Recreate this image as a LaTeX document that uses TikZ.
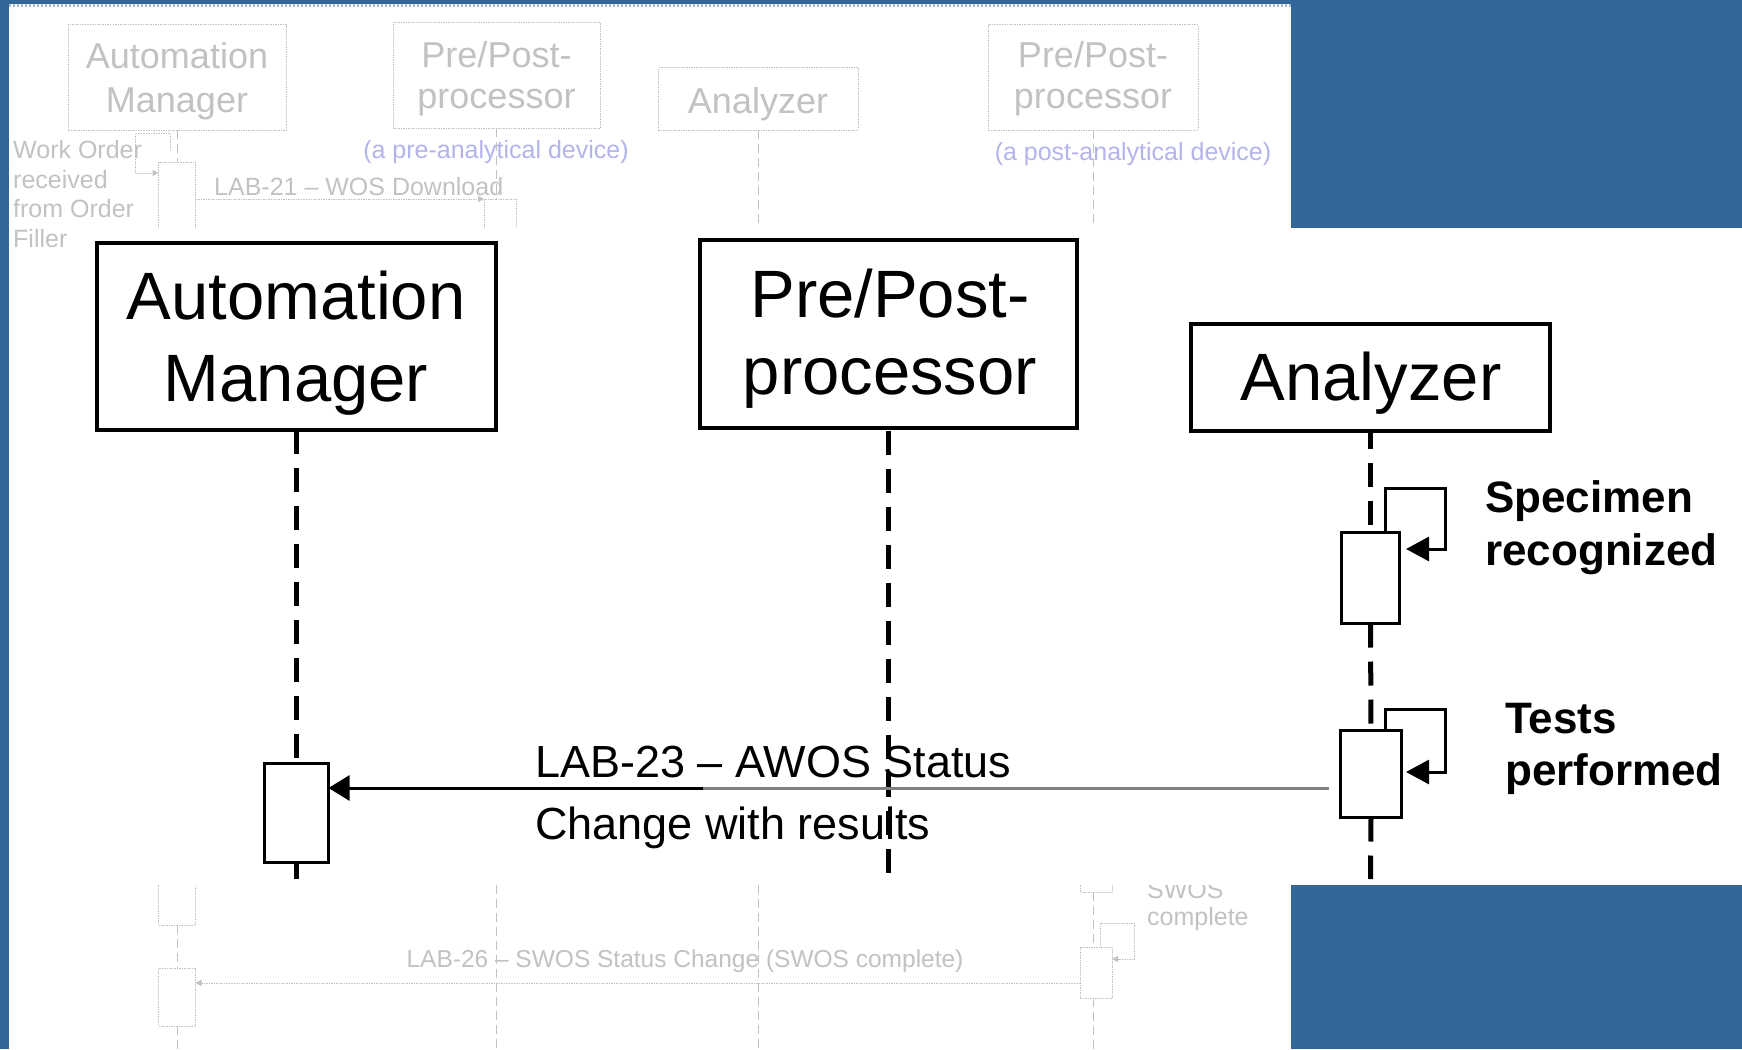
\documentclass[tikz,border=0pt]{standalone}
\usepackage{fontspec}
\setmainfont{Liberation Sans}
\usetikzlibrary{arrows.meta}
\definecolor{bgblue}{HTML}{336699}
\definecolor{ghost}{HTML}{C2C2C2}
\definecolor{ghostblue}{HTML}{B4B4EC}
\definecolor{msggray}{HTML}{808080}
\definecolor{topdots}{HTML}{A9BCD3}
\tikzset{
  bigbox/.style={draw=black, line width=4pt, fill=white, inner sep=0pt, outer sep=0pt},
  actbox/.style={draw=black, line width=3pt, fill=white, inner sep=0pt, outer sep=0pt},
  lifeline/.style={line width=5pt, dash pattern=on 24pt off 14pt},
  selfmsg/.style={line width=3pt, -{Triangle[length=23pt,width=24pt]}},
  msgarrow/.style={line width=3pt, -{Triangle[length=21pt,width=25pt]}},
  msgtail/.style={line width=3pt, draw=msggray},
  boxtext/.style={font=\fontsize{67}{80}\selectfont, anchor=base, inner sep=0pt},
  msgtext/.style={font=\fontsize{45}{54}\selectfont, anchor=base west, inner sep=0pt},
  notetext/.style={font=\bfseries\fontsize{44}{52}\selectfont, anchor=base west, inner sep=0pt},
  gline/.style={draw=ghost, line width=1pt, dash pattern=on 1.5pt off 1pt},
  glife/.style={draw=ghost, line width=1pt, dash pattern=on 9pt off 5pt},
  gbox/.style={gline, fill=white, inner sep=0pt, outer sep=0pt},
  gbig/.style={text=ghost, font=\fontsize{36}{42}\selectfont, anchor=base, inner sep=0pt},
  gsmall/.style={text=ghost, font=\fontsize{25}{30}\selectfont, anchor=base west, inner sep=0pt},
  gnote/.style={text=ghostblue, font=\fontsize{25}{30}\selectfont, anchor=base, inner sep=0pt},
  garrow/.style={gline, -{Triangle[length=6pt,width=6pt]}},
}
\begin{document}
\begin{tikzpicture}[x=1pt,y=-1pt]
\useasboundingbox (0,0) rectangle (1742,1049);
% background panels
\fill[bgblue] (0,0) rectangle (1742,1049);
\fill[white] (9,4) rectangle (1291,1049);
\draw[topdots, line width=3pt, dash pattern=on 2pt off 2pt] (9,5.5) -- (1291,5.5);

% ---------- faded background diagram (top) ----------
\node[gbox, minimum width=218pt, minimum height=105pt] (gam) at (177,77.5) {};
\node[gbig] (gamt1) at (177,68) {Automation};
\node[gbig] (gamt2) at (177,112) {Manager};
\node[gbox, minimum width=207pt, minimum height=105pt] (gpp1) at (496.5,75.5) {};
\node[gbig] (gpp1t1) at (496.5,67) {Pre/Post-};
\node[gbig] (gpp1t2) at (496.5,108) {processor};
\node[gbox, minimum width=200pt, minimum height=62pt] (gan) at (758,99) {};
\node[gbig] (gant) at (758,113) {Analyzer};
\node[gbox, minimum width=210pt, minimum height=105pt] (gpp2) at (1093,77.5) {};
\node[gbig] (gpp2t1) at (1093,67) {Pre/Post-};
\node[gbig] (gpp2t2) at (1093,108) {processor};
\node[gnote] (gpre) at (496,158) {(a pre-analytical device)};
\node[gnote] (gpost) at (1133,160) {(a post-analytical device)};

\draw[glife] (gam.south) -- (177,162);
\draw[gline] (158.5,228) -- (158.5,162) -- (195.5,162) -- (195.5,228);
\draw[garrow] (170,150) -- (170,133) -- (135,133) -- (135,173) -- (158.5,173);
\node[gsmall] (gwo1) at (13,158) {Work Order};
\node[gsmall] (gwo2) at (13,188) {received};
\node[gsmall] (gwo3) at (13,217) {from Order};
\node[gsmall] (gwo4) at (13,247) {Filler};

\draw[glife] (gpp1.south) -- (496.5,199);
\draw[gline] (484,228) -- (484,199) -- (516,199) -- (516,228);
\draw[garrow] (195.5,199) -- (484,199);
\node[gsmall] (glab21) at (214,195) {LAB-21 – WOS Download};
\draw[glife] (gan.south) -- (758,228);
\draw[glife] (gpp2.south) -- (1093,228);

% ---------- faded background diagram (bottom) ----------
\draw[gline] (158.5,885) -- (158.5,925) -- (195.5,925) -- (195.5,885);
\draw[glife] (177,925) -- (177,968);
\node[gbox, minimum width=37pt, minimum height=58pt] (gact3) at (177,997) {};
\draw[glife] (gact3.south) -- (177,1049);
\draw[glife] (496.5,885) -- (496.5,1049);
\draw[glife] (758,885) -- (758,1049);
\draw[gline] (1080,885) -- (1080,892) -- (1112,892) -- (1112,885);
\draw[glife] (1093,892) -- (1093,947);
\node[gbox, minimum width=32pt, minimum height=51pt] (gact4) at (1096,972.5) {};
\draw[glife] (1093,998) -- (1093,1049);
\draw[garrow] (1100,947) -- (1100,923) -- (1134,923) -- (1134,959) -- (gact4.east |- 0,959);
\draw[garrow] (gact4.west |- 0,983) -- (gact3.east |- 0,983);
\node[gsmall, anchor=base, font=\fontsize{24.5}{30}\selectfont] (glab26) at (685,967) {LAB-26 – SWOS Status Change (SWOS complete)};
\node[gsmall] (gsw1) at (1147,898) {SWOS};
\node[gsmall] (gsw2) at (1147,925) {complete};

% ---------- main panel ----------
\fill[white] (75,228) rectangle (1742,885);

\node[bigbox, minimum width=399pt, minimum height=187pt] (am) at (296.5,336.5) {};
\node[boxtext] (amt1) at (296,319) {Automation};
\node[boxtext] (amt2) at (296,401) {Manager};
\node[bigbox, minimum width=377pt, minimum height=188pt] (pp) at (888.5,334) {};
\node[boxtext] (ppt1) at (890,317) {Pre/Post-};
\node[boxtext] (ppt2) at (890,394) {processor};
\node[bigbox, minimum width=359pt, minimum height=107pt] (an) at (1370.5,377.5) {};
\node[boxtext] (ant) at (1371,400) {Analyzer};

\node[actbox, minimum width=64pt, minimum height=99pt] (amact) at (296.5,813) {};
\node[actbox, minimum width=58pt, minimum height=91pt] (spec) at (1370.5,578) {};
\node[actbox, minimum width=61pt, minimum height=87pt] (tests) at (1371,774) {};

\coordinate (amend) at (296.5,879);
\coordinate (ppend) at (888.5,882);
\coordinate (anend) at (1370.5,879);

\draw[lifeline] (am.south) -- (amact.north);
\draw[lifeline] (amact.south) -- (amend);
\draw[lifeline, dash phase=35pt] (pp.south) -- (ppend);
\draw[lifeline, dash phase=6pt] (an.south) -- (spec.north);
\draw[lifeline] (spec.south) -- (tests.north);
\draw[lifeline] (tests.south) -- (anend);

% self messages
\draw[selfmsg] (1385.5,532.5) -- (1385.5,488.5) -- (1445.5,488.5) -- (1445.5,549) -- (1406,549);
\draw[selfmsg] (1385.5,730.5) -- (1385.5,709.5) -- (1445.5,709.5) -- (1445.5,772) -- (1406,772);
\node[notetext] (n1a) at (1485,512) {Specimen};
\node[notetext] (n1b) at (1485,565) {recognized};
\node[notetext] (n2a) at (1505,733) {Tests};
\node[notetext] (n2b) at (1505,785) {performed};

% message LAB-23
\coordinate (msgsrc) at (1329,788);
\coordinate (msgmid) at (703,788);
\draw[msgtail] (msgsrc) -- (msgmid);
\draw[msgarrow] (msgmid) -- (amact.east |- msgmid);
\node[msgtext] (m1) at (535,777) {LAB-23 – AWOS Status};
\node[msgtext] (m2) at (535,839) {Change with results};
\end{tikzpicture}
\end{document}
